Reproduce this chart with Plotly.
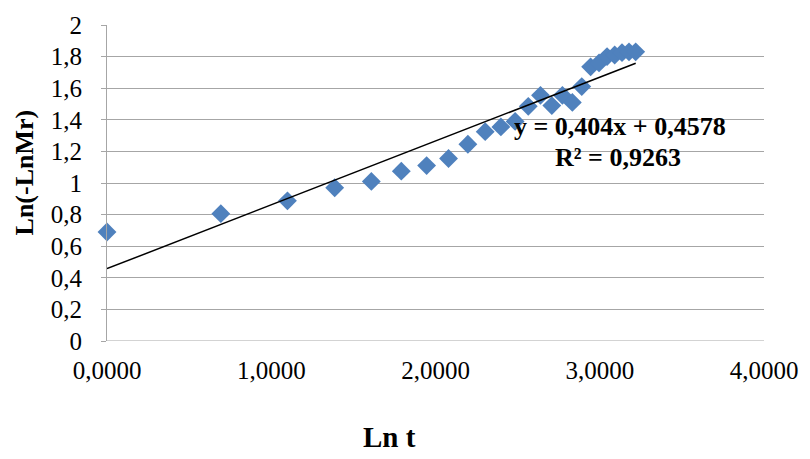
import plotly.graph_objects as go

ln_t = [0.0000, 0.6931, 1.0986, 1.3863, 1.6094, 1.7918, 1.9459, 2.0794, 2.1972, 2.3026,
        2.3979, 2.4849, 2.5649, 2.6391, 2.7081, 2.7726, 2.8332, 2.8904, 2.9444, 2.9957,
        3.0445, 3.0910, 3.1355, 3.1781, 3.2189]
ln_neg_ln_mr = [0.69, 0.806, 0.887, 0.97, 1.01, 1.075, 1.11, 1.155, 1.245, 1.325,
                1.355, 1.39, 1.485, 1.555, 1.49, 1.555, 1.51, 1.61, 1.735, 1.76,
                1.80, 1.81, 1.825, 1.83, 1.83]
slope = 0.404
intercept = 0.4578
r2 = 0.9263

x_ticks = [0, 1, 2, 3, 4]
y_ticks = [0, 0.2, 0.4, 0.6, 0.8, 1, 1.2, 1.4, 1.6, 1.8, 2]

trend_x = [min(ln_t), max(ln_t)]
trend_y = [slope * v + intercept for v in trend_x]

font = "Liberation Serif, Times New Roman, serif"

fig = go.Figure()
fig.add_trace(go.Scatter(x=ln_t, y=ln_neg_ln_mr, mode="markers",
                         marker=dict(symbol="diamond", size=14.5, color="#4F81BD",
                                     line=dict(width=0)),
                         cliponaxis=False, showlegend=False))
fig.add_trace(go.Scatter(x=trend_x, y=trend_y, mode="lines",
                         line=dict(color="black", width=1.5), showlegend=False))

eq = "y = {}x + {}".format(f"{slope:.3f}".replace(".", ","), f"{intercept:.4f}".replace(".", ","))
r2txt = "R² = {}".format(f"{r2:.4f}".replace(".", ","))
fig.add_annotation(x=3.125, y=1.36, xref="x", yref="y", text="<b>" + eq + "</b>",
                   showarrow=False, xanchor="center", yanchor="middle",
                   font=dict(family=font, size=26, color="black"))
fig.add_annotation(x=3.113, y=1.16, xref="x", yref="y", text="<b>" + r2txt + "</b>",
                   showarrow=False, xanchor="center", yanchor="middle",
                   font=dict(family=font, size=26, color="black"))

# axis titles
fig.add_annotation(x=0.4307, y=-0.304, xref="paper", yref="paper", text="<b>Ln t</b>",
                   showarrow=False, xanchor="center", yanchor="middle",
                   font=dict(family=font, size=29, color="black"))
fig.add_annotation(x=-0.125, y=0.533, xref="paper", yref="paper", text="<b>Ln(-LnMr)</b>",
                   showarrow=False, xanchor="center", yanchor="middle", textangle=-90,
                   font=dict(family=font, size=26, color="black"))

fig.update_layout(
    width=810, height=459,
    margin=dict(l=107, r=39, t=22, b=118),
    paper_bgcolor="white", plot_bgcolor="white",
    separators=", ",
    font=dict(family=font, size=25, color="black"),
    xaxis=dict(range=[0, 4], tickvals=x_ticks, tickformat=".4f",
               showgrid=False, zeroline=False, showline=False,
               ticks="", ticklabelstandoff=12),
    yaxis=dict(range=[0, 2], tickvals=y_ticks, tickformat="",
               showgrid=True, gridcolor="#A6A6A6", gridwidth=1,
               zeroline=False, showline=True, linecolor="#A6A6A6", linewidth=1,
               ticks="outside", ticklen=5, tickcolor="#A6A6A6", ticklabelstandoff=14),
)
fig.add_shape(type="line", xref="paper", yref="y", x0=0, x1=1, y0=0, y1=0,
              line=dict(color="#A6A6A6", width=1))

fig.write_html("out.html", config={"displayModeBar": False},
               post_script="document.body.style.margin='0';document.body.style.padding='0';")
